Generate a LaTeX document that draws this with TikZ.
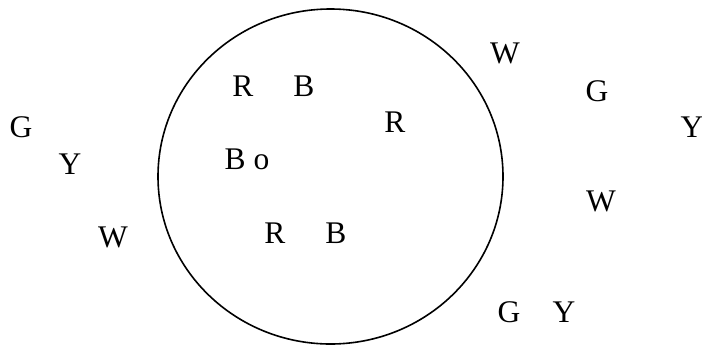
\documentclass[tikz,border=0pt]{standalone}
\usepackage{fontspec}
\setmainfont{Liberation Serif}
\begin{document}
\begin{tikzpicture}[x=1pt,y=-1pt,
  lbl/.style={inner sep=0pt, anchor=base, font=\fontsize{31.5}{34}\selectfont}]
\useasboundingbox (0,0) rectangle (702,346);
\draw[line width=1.6pt] (330.5,176.5) ellipse [x radius=172.5, y radius=167.5];
\node[lbl] (g1) at (21,137) {G};
\node[lbl] (y1) at (70,174) {Y};
\node[lbl] (w1) at (113,247) {W};
\node[lbl] (r1) at (243,96) {R};
\node[lbl] (b1) at (304,96) {B};
\node[lbl] (r2) at (395,132) {R};
\node[lbl] (bo) at (247,169) {B o};
\node[lbl] (r3) at (275,243) {R};
\node[lbl] (b3) at (336,243) {B};
\node[lbl] (w2) at (505,63) {W};
\node[lbl] (g2) at (597,101) {G};
\node[lbl] (y2) at (692,137) {Y};
\node[lbl] (w3) at (601,211) {W};
\node[lbl] (g3) at (509,322) {G};
\node[lbl] (y3) at (564,322) {Y};
\end{tikzpicture}
\end{document}
